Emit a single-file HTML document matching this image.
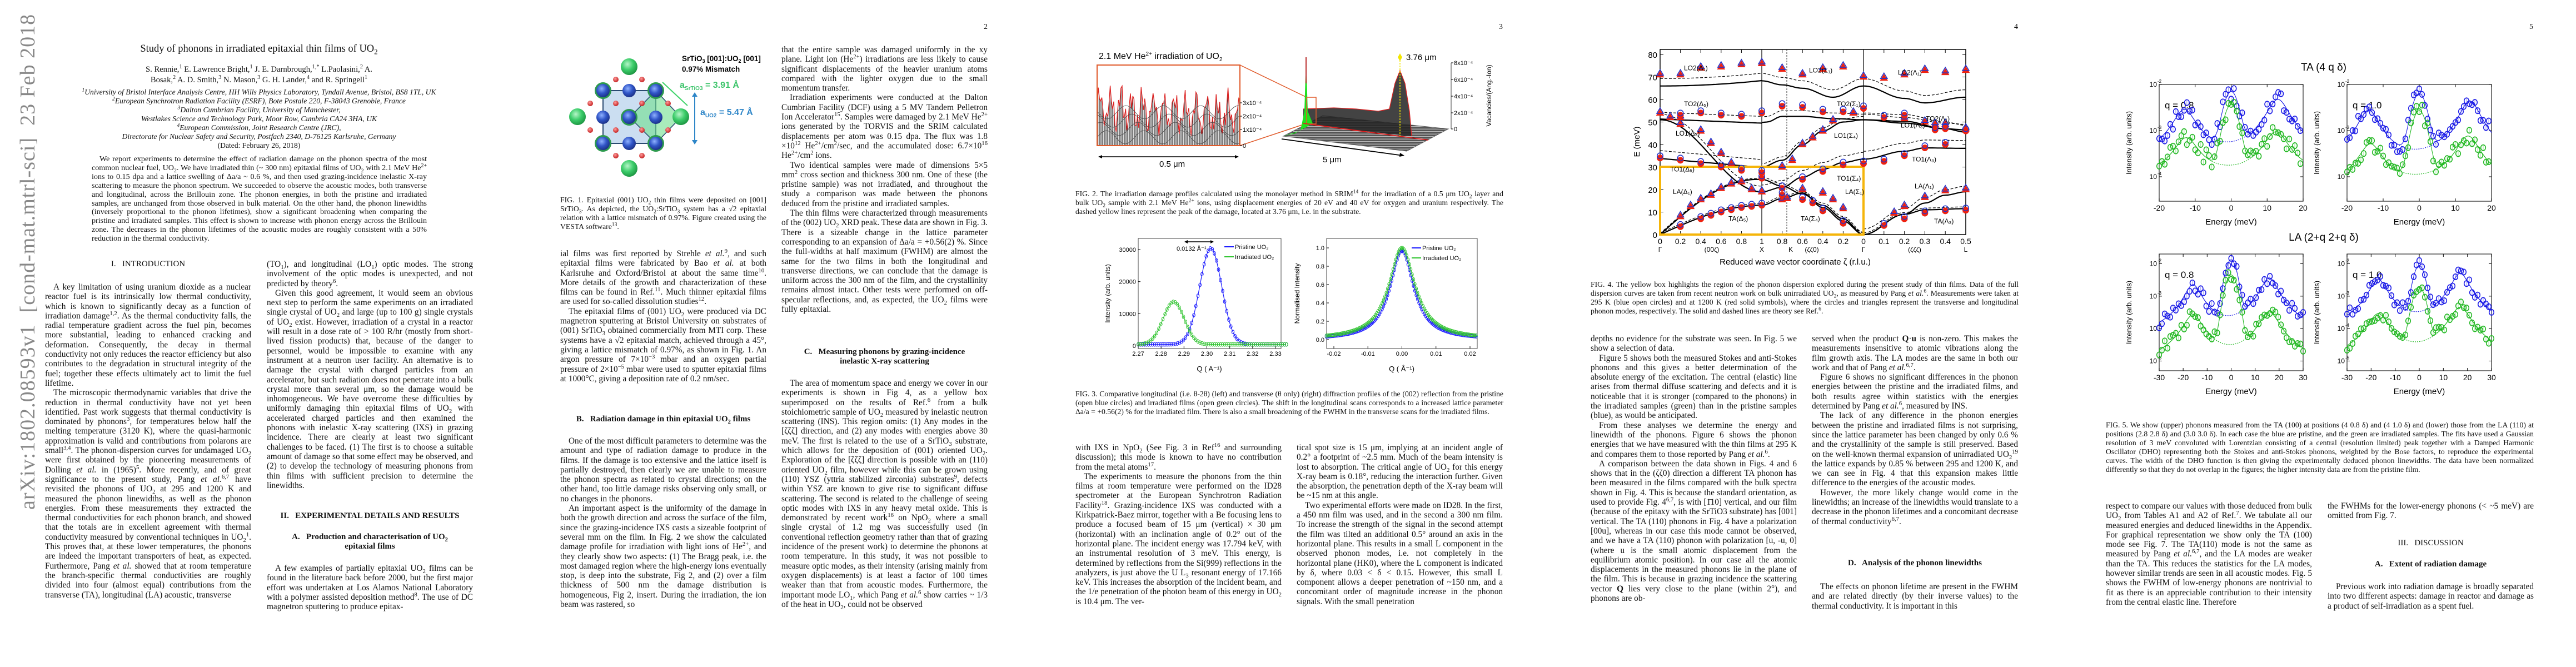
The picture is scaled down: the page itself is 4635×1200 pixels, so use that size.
<!DOCTYPE html>
<html><head><meta charset="utf-8">
<style>
html,body{margin:0;padding:0;background:#fff;}
body{width:4635px;height:1200px;position:relative;overflow:hidden;font-family:"Liberation Serif",serif;color:#111;}
sup,sub{line-height:0;font-size:70%;}
.c{position:absolute;width:371px;font-size:15.3px;line-height:17.3px;text-align:justify;overflow:hidden;}
.c p{margin:0;text-indent:15px;}
.h{position:absolute;width:371px;text-align:center;font-size:15px;line-height:17.3px;font-weight:bold;}
.cap{position:absolute;font-size:13.7px;line-height:16px;text-align:justify;overflow:hidden;}
.pn{position:absolute;top:41px;font-size:14px;}
svg text{font-family:"Liberation Sans",sans-serif;}
</style></head><body>

<div style="position:absolute;left:-260px;top:585px;width:620px;transform:rotate(-90deg);font-size:38px;color:#888;font-family:'Liberation Serif',serif;white-space:nowrap;letter-spacing:1px;">arXiv:1802.08593v1&nbsp; [cond-mat.mtrl-sci]&nbsp; 23 Feb 2018</div>

<div class="pn" style="left:1770px">2</div>
<div class="pn" style="left:2697px">3</div>
<div class="pn" style="left:3624px">4</div>
<div class="pn" style="left:4551px">5</div>

<!-- PAGE 1 -->
<div style="position:absolute;left:81px;width:770px;top:78px;text-align:center;font-size:18.5px;">Study of phonons in irradiated epitaxial thin films of UO<sub>2</sub></div>
<div style="position:absolute;left:81px;width:770px;top:116px;text-align:center;font-size:14.6px;line-height:19px;">S. Rennie,<sup>1</sup> E. Lawrence Bright,<sup>1</sup> J. E. Darnbrough,<sup>1,*</sup> L.Paolasini,<sup>2</sup> A.<br>Bosak,<sup>2</sup> A. D. Smith,<sup>3</sup> N. Mason,<sup>3</sup> G. H. Lander,<sup>4</sup> and R. Springell<sup>1</sup></div>
<div style="position:absolute;left:81px;width:770px;top:158px;text-align:center;font-size:13.6px;line-height:16px;font-style:italic;"><sup>1</sup>University of Bristol Interface Analysis Centre, HH Wills Physics Laboratory, Tyndall Avenue, Bristol, BS8 1TL, UK<br><sup>2</sup>European Synchrotron Radiation Facility (ESRF), Bote Postale 220, F-38043 Grenoble, France<br><sup>3</sup>Dalton Cumbrian Facility, University of Manchester,<br>Westlakes Science and Technology Park, Moor Row, Cumbria CA24 3HA, UK<br><sup>4</sup>European Commission, Joint Research Centre (JRC),<br>Directorate for Nuclear Safety and Security, Postfach 2340, D-76125 Karlsruhe, Germany<br><span style="font-style:normal">(Dated: February 26, 2018)</span></div>
<div style="position:absolute;left:165px;width:603px;top:279px;font-size:14.1px;line-height:15.9px;text-align:justify;text-indent:14px;">We report experiments to determine the effect of radiation damage on the phonon spectra of the most common nuclear fuel, UO<sub>2</sub>. We have irradiated thin (~ 300 nm) epitaxial films of UO<sub>2</sub> with 2.1 MeV He<sup>2+</sup> ions to 0.15 dpa and a lattice swelling of Δa/a ~ 0.6 %, and then used grazing-incidence inelastic X-ray scattering to measure the phonon spectrum. We succeeded to observe the acoustic modes, both transverse and longitudinal, across the Brillouin zone. The phonon energies, in both the pristine and irradiated samples, are unchanged from those observed in bulk material. On the other hand, the phonon linewidths (inversely proportional to the phonon lifetimes), show a significant broadening when comparing the pristine and irradiated samples. This effect is shown to increase with phonon energy across the Brillouin zone. The decreases in the phonon lifetimes of the acoustic modes are roughly consistent with a 50% reduction in the thermal conductivity.</div>

<div class="h" style="left:81px;top:467px;font-weight:normal">I.&nbsp;&nbsp; INTRODUCTION</div>
<div class="c" style="left:81px;top:508px;height:592px;"><p>A key limitation of using uranium dioxide as a nuclear reactor fuel is its intrinsically low thermal conductivity, which is known to significantly decay as a function of irradiation damage<sup>1,2</sup>. As the thermal conductivity falls, the radial temperature gradient across the fuel pin, becomes more substantial, leading to enhanced cracking and deformation. Consequently, the decay in thermal conductivity not only reduces the reactor efficiency but also contributes to the degradation in structural integrity of the fuel; together these effects ultimately act to limit the fuel lifetime.</p><p>The microscopic thermodynamic variables that drive the reduction in thermal conductivity have not yet been identified. Past work suggests that thermal conductivity is dominated by phonons<sup>3</sup>, for temperatures below half the melting temperature (3120 K), where the quasi-harmonic approximation is valid and contributions from polarons are small<sup>3,4</sup>. The phonon-dispersion curves for undamaged UO<sub>2</sub> were first obtained by the pioneering measurements of Dolling <i>et al.</i> in (1965)<sup>5</sup>. More recently, and of great significance to the present study, Pang <i>et al.</i><sup>6,7</sup> have revisited the phonons of UO<sub>2</sub> at 295 and 1200 K and measured the phonon linewidths, as well as the phonon energies. From these measurements they extracted the thermal conductivities for each phonon branch, and showed that the totals are in excellent agreement with thermal conductivity measured by conventional techniques in UO<sub>2</sub><sup>1</sup>. This proves that, at these lower temperatures, the phonons are indeed the important transporters of heat, as expected. Furthermore, Pang <i>et al.</i> showed that at room temperature the branch-specific thermal conductivities are roughly divided into four (almost equal) contributions from the transverse (TA), longitudinal (LA) acoustic, transverse</p></div>
<div class="c" style="left:480px;top:467px;height:416px;"><p style="text-indent:0">(TO<sub>1</sub>), and longitudinal (LO<sub>1</sub>) optic modes. The strong involvement of the optic modes is unexpected, and not predicted by theory<sup>6</sup>.</p><p>Given this good agreement, it would seem an obvious next step to perform the same experiments on an irradiated single crystal of UO<sub>2</sub> and large (up to 100 g) single crystals of UO<sub>2</sub> exist. However, irradiation of a crystal in a reactor will result in a dose rate of &gt; 100 R/hr (mostly from short-lived fission products) that, because of the danger to personnel, would be impossible to examine with any instrument at a neutron user facility. An alternative is to damage the crystal with charged particles from an accelerator, but such radiation does not penetrate into a bulk crystal more than several μm, so the damage would be inhomogeneous. We have overcome these difficulties by uniformly damaging thin epitaxial films of UO<sub>2</sub> with accelerated charged particles and then examined the phonons with inelastic X-ray scattering (IXS) in grazing incidence. There are clearly at least two significant challenges to be faced. (1) The first is to choose a suitable amount of damage so that some effect may be observed, and (2) to develop the technology of measuring phonons from thin films with sufficient precision to determine the linewidths.</p></div>
<div class="h" style="left:480px;top:920px">II.&nbsp;&nbsp; EXPERIMENTAL DETAILS AND RESULTS</div>
<div class="h" style="left:480px;top:958px">A.&nbsp;&nbsp; Production and characterisation of UO<sub>2</sub><br>epitaxial films</div>
<div class="c" style="left:480px;top:1014px;height:87px;"><p>A few examples of partially epitaxial UO<sub>2</sub> films can be found in the literature back before 2000, but the first major effort was undertaken at Los Alamos National Laboratory with a polymer assisted deposition method<sup>8</sup>. The use of DC magnetron sputtering to produce epitax-</p></div>

<!-- PAGE 2 -->
<div class="cap" style="left:1008px;top:352px;width:371px;height:66px;">FIG. 1. Epitaxial (001) UO<sub>2</sub> thin films were deposited on [001] SrTiO<sub>3</sub>. As depicted, the UO<sub>2</sub>:SrTiO<sub>3</sub> system has a √2 epitaxial relation with a lattice mismatch of 0.97%. Figure created using the VESTA software<sup>13</sup>.</div>
<div class="c" style="left:1008px;top:448px;height:262px;"><p style="text-indent:0">ial films was first reported by Strehle <i>et al.</i><sup>9</sup>, and such epitaxial films were fabricated by Bao <i>et al.</i> at both Karlsruhe and Oxford/Bristol at about the same time<sup>10</sup>. More details of the growth and characterization of these films can be found in Ref.<sup>11</sup>. Much thinner epitaxial films are used for so-called dissolution studies<sup>12</sup>.</p><p>The epitaxial films of (001) UO<sub>2</sub> were produced via DC magnetron sputtering at Bristol University on substrates of (001) SrTiO<sub>3</sub> obtained commercially from MTI corp. These systems have a √2 epitaxial match, achieved through a 45°, giving a lattice mismatch of 0.97%, as shown in Fig. 1. An argon pressure of 7×10<sup>−3</sup> mbar and an oxygen partial pressure of 2×10<sup>−5</sup> mbar were used to sputter epitaxial films at 1000°C, giving a deposition rate of 0.2 nm/sec.</p></div>
<div class="h" style="left:1008px;top:746px">B.&nbsp;&nbsp; Radiation damage in thin epitaxial UO<sub>2</sub> films</div>
<div class="c" style="left:1008px;top:785px;height:315px;"><p>One of the most difficult parameters to determine was the amount and type of radiation damage to produce in the films. If the damage is too extensive and the lattice itself is partially destroyed, then clearly we are unable to measure the phonon spectra as related to crystal directions; on the other hand, too little damage risks observing only small, or no changes in the phonons.</p><p>An important aspect is the uniformity of the damage in both the growth direction and across the surface of the film, since the grazing-incidence IXS casts a sizeable footprint of several mm on the film. In Fig. 2 we show the calculated damage profile for irradiation with light ions of He<sup>2+</sup>, and they clearly show two aspects: (1) The Bragg peak, i.e. the most damaged region where the high-energy ions eventually stop, is deep into the substrate, Fig 2, and (2) over a film thickness of 500 nm the damage distribution is homogeneous, Fig 2, insert. During the irradiation, the ion beam was rastered, so</p></div>
<div class="c" style="left:1406px;top:81px;height:506px;"><p style="text-indent:0">that the entire sample was damaged uniformly in the xy plane. Light ion (He<sup>2+</sup>) irradiations are less likely to cause significant displacements of the heavier uranium atoms compared with the lighter oxygen due to the small momentum transfer.</p><p>Irradiation experiments were conducted at the Dalton Cumbrian Facility (DCF) using a 5 MV Tandem Pelletron Ion Accelerator<sup>15</sup>. Samples were damaged by 2.1 MeV He<sup>2+</sup> ions generated by the TORVIS and the SRIM calculated displacements per atom was 0.15 dpa. The flux was 1.8 ×10<sup>12</sup> He<sup>2+</sup>/cm<sup>2</sup>/sec, and the accumulated dose: 6.7×10<sup>16</sup> He<sup>2+</sup>/cm<sup>2</sup> ions.</p><p>Two identical samples were made of dimensions 5×5 mm<sup>2</sup> cross section and thickness 300 nm. One of these (the pristine sample) was not irradiated, and throughout the study a comparison was made between the phonons deduced from the pristine and irradiated samples.</p><p>The thin films were characterized through measurements of the (002) UO<sub>2</sub> XRD peak. These data are shown in Fig. 3. There is a sizeable change in the lattice parameter corresponding to an expansion of Δa/a = +0.56(2) %. Since the full-widths at half maximum (FWHM) are almost the same for the two films in both the longitudinal and transverse directions, we can conclude that the damage is uniform across the 300 nm of the film, and the crystallinity remains almost intact. Other tests were performed on off-specular reflections, and, as expected, the UO<sub>2</sub> films were fully epitaxial.</p></div>
<div class="h" style="left:1406px;top:625px">C.&nbsp;&nbsp; Measuring phonons by grazing-incidence<br>inelastic X-ray scattering</div>
<div class="c" style="left:1406px;top:681px;height:419px;"><p>The area of momentum space and energy we cover in our experiments is shown in Fig 4, as a yellow box superimposed on the results of Ref.<sup>6</sup> from a bulk stoichiometric sample of UO<sub>2</sub> measured by inelastic neutron scattering (INS). This region omits: (1) Any modes in the [ζζζ] direction, and (2) any modes with energies above 30 meV. The first is related to the use of a SrTiO<sub>3</sub> substrate, which allows for the deposition of (001) oriented UO<sub>2</sub>. Exploration of the [ζζζ] direction is possible with an (110) oriented UO<sub>2</sub> film, however while this can be grown using (110) YSZ (yttria stabilized zirconia) substrates<sup>9</sup>, defects within YSZ are known to give rise to significant diffuse scattering. The second is related to the challenge of seeing optic modes with IXS in any heavy metal oxide. This is demonstrated by recent work<sup>16</sup> on NpO<sub>2</sub> where a small single crystal of 1.2 mg was successfully used (in conventional reflection geometry rather than that of grazing incidence of the present work) to determine the phonons at room temperature. In this study, it was not possible to measure optic modes, as their intensity (arising mainly from oxygen displacements) is at least a factor of 100 times weaker than that from acoustic modes. Furthermore, the important mode LO<sub>1</sub>, which Pang <i>et al.</i><sup>6</sup> show carries ~ 1/3 of the heat in UO<sub>2</sub>, could not be observed</p></div>

<!-- PAGE 3 -->
<div class="cap" style="left:1935px;top:341px;width:770px;height:50px;">FIG. 2. The irradiation damage profiles calculated using the monolayer method in SRIM<sup>14</sup> for the irradiation of a 0.5 μm UO<sub>2</sub> layer and bulk UO<sub>2</sub> sample with 2.1 MeV He<sup>2+</sup> ions, using displacement energies of 20 eV and 40 eV for oxygen and uranium respectively. The dashed yellow lines represent the peak of the damage, located at 3.76 μm, i.e. in the substrate.</div>
<div class="cap" style="left:1935px;top:701px;width:770px;height:66px;">FIG. 3. Comparative longitudinal (i.e. θ-2θ) (left) and transverse (θ only) (right) diffraction profiles of the (002) reflection from the pristine (open blue circles) and irradiated films (open green circles). The shift in the longitudinal scans corresponds to a increased lattice parameter Δa/a = +0.56(2) % for the irradiated film. There is also a small broadening of the FWHM in the transverse scans for the irradiated films.</div>
<div class="c" style="left:1935px;top:797px;height:303px;"><p style="text-indent:0">with IXS in NpO<sub>2</sub> (See Fig. 3 in Ref<sup>16</sup> and surrounding discussion); this mode is known to have no contribution from the metal atoms<sup>17</sup>.</p><p>The experiments to measure the phonons from the thin films at room temperature were performed on the ID28 spectrometer at the European Synchrotron Radiation Facility<sup>18</sup>. Grazing-incidence IXS was conducted with a Kirkpatrick-Baez mirror, together with a Be focusing lens to produce a focused beam of 15 μm (vertical) × 30 μm (horizontal) with an inclination angle of 0.2° out of the horizontal plane. The incident energy was 17.794 keV, with an instrumental resolution of 3 meV. This energy, is determined by reflections from the Si(999) reflections in the analyzers, is just above the U L<sub>3</sub> resonant energy of 17.166 keV. This increases the absorption of the incident beam, and the 1/e penetration of the photon beam of this energy in UO<sub>2</sub> is 10.4 μm. The ver-</p></div>
<div class="c" style="left:2333px;top:797px;height:303px;"><p style="text-indent:0">tical spot size is 15 μm, implying at an incident angle of 0.2° a footprint of ~2.5 mm. Much of the beam intensity is lost to absorption. The critical angle of UO<sub>2</sub> for this energy X-ray beam is 0.18°, reducing the interaction further. Given the absorption, the penetration depth of the X-ray beam will be ~15 nm at this angle.</p><p>Two experimental efforts were made on ID28. In the first, a 450 nm film was used, and in the second a 300 nm film. To increase the strength of the signal in the second attempt the film was tilted an additional 0.5° around an axis in the horizontal plane. This results in a small L component in the observed phonon modes, i.e. not completely in the horizontal plane (HK0), where the L component is indicated by δ, where 0.03 &lt; δ &lt; 0.15. However, this small L component allows a deeper penetration of ~150 nm, and a concomitant order of magnitude increase in the phonon signals. With the small penetration</p></div>

<!-- PAGE 4 -->
<div class="cap" style="left:2862px;top:504px;width:770px;height:66px;">FIG. 4. The yellow box highlights the region of the phonon dispersion explored during the present study of thin films. Data of the full dispersion curves are taken from recent neutron work on bulk unirradiated UO<sub>2</sub>, as measured by Pang <i>et al.</i><sup>6</sup>. Measurements were taken at 295 K (blue open circles) and at 1200 K (red solid symbols), where the circles and triangles represent the transverse and longitudinal phonon modes, respectively. The solid and dashed lines are theory see Ref.<sup>6</sup>.</div>
<div class="c" style="left:2862px;top:601px;height:499px;"><p style="text-indent:0">depths no evidence for the substrate was seen. In Fig. 5 we show a selection of data.</p><p>Figure 5 shows both the measured Stokes and anti-Stokes phonons and this gives a better determination of the absolute energy of the excitation. The central (elastic) line arises from thermal diffuse scattering and defects and it is noticeable that it is stronger (compared to the phonons) in the irradiated samples (green) than in the pristine samples (blue), as would be anticipated.</p><p>From these analyses we determine the energy and linewidth of the phonons. Figure 6 shows the phonon energies that we have measured with the thin films at 295 K and compares them to those reported by Pang <i>et al.</i><sup>6</sup>.</p><p>A comparison between the data shown in Figs. 4 and 6 shows that in the (ζζ0) direction a different TA phonon has been measured in the films compared with the bulk spectra shown in Fig. 4. This is because the standard orientation, as used to provide Fig. 4<sup>6,7</sup>, is with [1̄10] vertical, and our film (because of the epitaxy with the SrTiO3 substrate) has [001] vertical. The TA (110) phonons in Fig. 4 have a polarization [00u], whereas in our case this mode cannot be observed, and we have a TA (110) phonon with polarization [u, -u, 0] (where u is the small atomic displacement from the equilibrium atomic position). In our case all the atomic displacements in the measured phonons lie in the plane of the film. This is because in grazing incidence the scattering vector <b>Q</b> lies very close to the plane (within 2°), and phonons are ob-</p></div>
<div class="c" style="left:3260px;top:601px;height:366px;"><p style="text-indent:0">served when the product <b>Q</b>·<b>u</b> is non-zero. This makes the measurements insensitive to atomic vibrations along the film growth axis. The LA modes are the same in both our work and that of Pang <i>et al.</i><sup>6,7</sup>.</p><p>Figure 6 shows no significant differences in the phonon energies between the pristine and the irradiated films, and both results agree within statistics with the energies determined by Pang <i>et al.</i><sup>6</sup>, measured by INS.</p><p>The lack of any difference in the phonon energies between the pristine and irradiated films is not surprising, since the lattice parameter has been changed by only 0.6 % and the crystallinity of the sample is still preserved. Based on the well-known thermal expansion of unirradiated UO<sub>2</sub><sup>19</sup> the lattice expands by 0.85 % between 295 and 1200 K, and we can see in Fig. 4 that this expansion makes little difference to the energies of the acoustic modes.</p><p>However, the more likely change would come in the linewidths; an increase of the linewidths would translate to a decrease in the phonon lifetimes and a concomitant decrease of thermal conductivity<sup>6,7</sup>.</p></div>
<div class="h" style="left:3260px;top:1005px">D.&nbsp;&nbsp; Analysis of the phonon linewidths</div>
<div class="c" style="left:3260px;top:1047px;height:53px;"><p>The effects on phonon lifetime are present in the FWHM and are related directly (by their inverse values) to the thermal conductivity. It is important in this</p></div>

<!-- PAGE 5 -->
<div class="cap" style="left:3789px;top:757px;width:770px;height:114px;">FIG. 5. We show (upper) phonons measured from the TA (100) at positions (4 0.8 δ) and (4 1.0 δ) and (lower) those from the LA (110) at positions (2.8 2.8 δ) and (3.0 3.0 δ). In each case the blue are pristine, and the green are irradiated samples. The fits have used a Gaussian resolution of 3 meV convoluted with Lorentzian consisting of a central (resolution limited) peak together with a Damped Harmonic Oscillator (DHO) representing both the Stokes and anti-Stokes phonons, weighted by the Bose factors, to reproduce the experimental curves. The width of the DHO function is then giving the experimentally deduced phonon linewidths. The data have been normalized differently so that they do not overlap in the figures; the higher intensity data are from the pristine film.</div>
<div class="c" style="left:3789px;top:902px;height:198px;"><p style="text-indent:0">respect to compare our values with those deduced from bulk UO<sub>2</sub> from Tables A1 and A2 of Ref.<sup>7</sup>. We tabulate all our measured energies and deduced linewidths in the Appendix. For graphical representation we show only the TA (100) mode see Fig. 7. The TA(110) mode is not the same as measured by Pang <i>et al.</i><sup>6,7</sup>, and the LA modes are weaker than the TA. This reduces the statistics for the LA modes, however similar trends are seen in all acoustic modes. Fig. 5 shows the FWHM of low-energy phonons are nontrivial to fit as there is an appreciable contribution to their intensity from the central elastic line. Therefore</p></div>
<div class="c" style="left:4188px;top:902px;height:36px;"><p style="text-indent:0">the FWHMs for the lower-energy phonons (&lt; ~5 meV) are omitted from Fig. 7.</p></div>
<div class="h" style="left:4188px;top:969px;font-weight:normal">III.&nbsp;&nbsp; DISCUSSION</div>
<div class="h" style="left:4188px;top:1007px">A.&nbsp;&nbsp; Extent of radiation damage</div>
<div class="c" style="left:4188px;top:1047px;height:53px;"><p>Previous work into radiation damage is broadly separated into two different aspects: damage in reactor and damage as a product of self-irradiation as a spent fuel.</p></div>

<svg id="g" width="4635" height="1200" style="position:absolute;left:0;top:0" xmlns="http://www.w3.org/2000/svg">
<defs>
<pattern id="vl" width="3" height="10" patternUnits="userSpaceOnUse"><rect width="3" height="10" fill="#ddd"/><line x1="1" y1="0" x2="1" y2="10" stroke="#222" stroke-width="1"/></pattern>
<pattern id="hl" width="6" height="3" patternUnits="userSpaceOnUse"><rect width="6" height="3" fill="#bbb"/><line x1="0" y1="1" x2="6" y2="1" stroke="#111" stroke-width="1.2"/></pattern>
<radialGradient id="gg" cx="0.4" cy="0.35" r="0.7"><stop offset="0" stop-color="#b6f5c8"/><stop offset="0.5" stop-color="#3ccd6a"/><stop offset="1" stop-color="#1a8f3e"/></radialGradient>
<radialGradient id="bg" cx="0.4" cy="0.35" r="0.7"><stop offset="0" stop-color="#8fb1ff"/><stop offset="0.5" stop-color="#3156c8"/><stop offset="1" stop-color="#1a2d80"/></radialGradient>
<radialGradient id="rg" cx="0.4" cy="0.35" r="0.7"><stop offset="0" stop-color="#ff9a9a"/><stop offset="1" stop-color="#c01818"/></radialGradient>
</defs>
<g id="f1"></g>
<text x="1227" y="110" font-size="13.5" font-weight="bold">SrTiO<tspan font-size="9" dy="3">3</tspan><tspan dy="-3"> [001]:UO</tspan><tspan font-size="9" dy="3">2</tspan><tspan dy="-3"> [001]</tspan></text>
<text x="1227" y="129" font-size="13.5" font-weight="bold">0.97% Mismatch</text>
<line x1="1192" y1="148" x2="1237" y2="190" stroke="#3fd36a" stroke-width="2"/>
<text x="1223" y="158" font-size="16" font-weight="bold" fill="#3cc46a">a<tspan font-size="10" dy="4">SrTiO3</tspan><tspan dy="-4"> = 3.91 Å</tspan></text>
<line x1="1250" y1="168" x2="1250" y2="258" stroke="#2e86c8" stroke-width="2"/>
<path d="M1245 174 L1250 166 L1255 174 Z M1245 252 L1250 260 L1255 252 Z" fill="#2e86c8"/>
<text x="1260" y="207" font-size="16" font-weight="bold" fill="#2e86c8">a<tspan font-size="10" dy="4">UO2</tspan><tspan dy="-4"> = 5.47 Å</tspan></text>

<text x="1977" y="106" font-size="16">2.1 MeV He<tspan font-size="10" dy="-6">2+</tspan><tspan dy="6"> irradiation of UO</tspan><tspan font-size="10" dy="4">2</tspan></text>
<g id="f2"></g>
<g id="f3"></g>
<g id="f4"></g>
<g id="f5"></g>
</svg>

<script>
var NS="http://www.w3.org/2000/svg";
function el(p,t,a,txt){var e=document.createElementNS(NS,t);for(var k in a)e.setAttribute(k,a[k]);if(txt!==undefined)e.textContent=txt;p.appendChild(e);return e;}
function pts(a){return a.map(function(p){return p[0].toFixed(1)+","+p[1].toFixed(1)}).join(" ");}
function rnd(i){var x=Math.sin(i*12.9898+78.233)*43758.5453;return x-Math.floor(x);}

(function(){var g=document.getElementById("f1");
el(g,"rect",{x:1085,y:163,width:95,height:95,fill:"#b9d3ec","fill-opacity":0.75,stroke:"#2a4a70","stroke-width":2});
el(g,"polygon",{points:"1133,211 1180,163 1225,211 1180,258",fill:"#6fe08e","fill-opacity":0.6,stroke:"#2a4a70","stroke-width":1.5});
[[1108,143],[1155,143],[1108,280],[1155,280]].forEach(function(p){el(g,"circle",{cx:p[0],cy:p[1],r:5,fill:"url(#rg)"})});
[1062,1108,1155,1202].forEach(function(x){[186,234].forEach(function(y){el(g,"circle",{cx:x,cy:y,r:5,fill:"url(#rg)"})})});
[[1132,120],[1039,210],[1225,210],[1132,303]].forEach(function(p){el(g,"circle",{cx:p[0],cy:p[1],r:15,fill:"url(#gg)"})});
[[1085,163],[1180,163],[1085,258],[1180,258],[1132,211]].forEach(function(p){el(g,"circle",{cx:p[0],cy:p[1],r:15,fill:"#2d9a4e"})});
[1085,1132,1180].forEach(function(x){[163,211,258].forEach(function(y){el(g,"circle",{cx:x,cy:y,r:12,fill:"url(#bg)"})})});
})();

(function(){var g=document.getElementById("f2");
el(g,"rect",{x:1974,y:117,width:257,height:145,fill:"#fff"});
var top=[],i;for(i=0;i<=120;i++){var x=1974+i*257/120;var v=0.55+0.25*Math.sin(i*0.7)+0.15*Math.sin(i*1.9)+0.2*rnd(i)-0.15*i/120;top.push([x,262-v*145*0.72]);}
el(g,"polygon",{points:pts([[1974,262]].concat(top).concat([[2231,262]])),fill:"url(#vl)"});
el(g,"polyline",{points:pts(top),fill:"none",stroke:"#d22","stroke-width":1.3});
for(var k=0;k<4;k++){var q=[];for(i=0;i<=60;i++){q.push([1974+i*257/60,262-(15+k*15)-12*Math.sin(i*0.4+k)]);}el(g,"polyline",{points:pts(q),fill:"none",stroke:"#444","stroke-width":0.8});}
el(g,"rect",{x:1974,y:117,width:257,height:145,fill:"none",stroke:"#e05a2a","stroke-width":2});
el(g,"line",{x1:2231,y1:117,x2:2351,y2:175,stroke:"#e05a2a","stroke-width":1.5});
el(g,"line",{x1:2231,y1:262,x2:2351,y2:222,stroke:"#e05a2a","stroke-width":1.5});
[["3x10⁻⁴",185],["2x10⁻⁴",209],["1x10⁻⁴",233],["0",262]].forEach(function(t){el(g,"line",{x1:2231,y1:t[1],x2:2235,y2:t[1],stroke:"#000"});el(g,"text",{x:2236,y:t[1]+4,"font-size":11},t[0]);});
el(g,"line",{x1:1977,y1:282,x2:2228,y2:282,stroke:"#000","stroke-width":1.5});
el(g,"path",{d:"M1976 282 l7 -3 v6 z M2229 282 l-7 -3 v6 z",fill:"#000"});
el(g,"text",{x:2086,y:300,"font-size":15},"0.5 μm");
el(g,"polygon",{points:"2309,245 2531,272 2606,232 2380,208",fill:"url(#hl)",stroke:"#666"});
el(g,"polygon",{points:"2345,205 2345,196 2400,194 2440,196 2480,200 2500,196 2510,150 2519,127 2528,150 2536,200 2540,245 2420,232 2345,222",fill:"#222","fill-opacity":0.85});
el(g,"polyline",{points:"2345,196 2400,194 2440,196 2480,200 2500,196 2510,150 2519,127 2528,150 2536,200 2540,245",fill:"none",stroke:"#d22","stroke-width":1.3});
el(g,"polygon",{points:"2309,245 2340,235 2347,200 2350,103 2353,200 2362,222 2330,240",fill:"#1fe01f"});
el(g,"line",{x1:2350,y1:103,x2:2350,y2:150,stroke:"#b33","stroke-width":2});
el(g,"rect",{x:2351,y:175,width:17,height:48,fill:"none",stroke:"#e05a2a","stroke-width":1.5});
el(g,"line",{x1:2345,y1:222,x2:2570,y2:252,stroke:"#e02020","stroke-width":1.8});
el(g,"line",{x1:2519,y1:103,x2:2519,y2:245,stroke:"#f2e600","stroke-width":1.5,"stroke-dasharray":"3,2"});
el(g,"path",{d:"M2519 96 l4 7 l-4 7 l-4 -7z",fill:"#f2e600"});
el(g,"text",{x:2530,y:108,"font-size":15},"3.76 μm");
el(g,"line",{x1:2611,y1:113,x2:2611,y2:232,stroke:"#333"});
[["8x10⁻⁴",113],["6x10⁻⁴",143],["4x10⁻⁴",173],["2x10⁻⁴",203],["0",232]].forEach(function(t){el(g,"line",{x1:2611,y1:t[1],x2:2615,y2:t[1],stroke:"#000"});el(g,"text",{x:2616,y:t[1]+4,"font-size":11},t[0]);});
el(g,"text",{x:2683,y:172,"font-size":12,transform:"rotate(-90 2683 172)","text-anchor":"middle"},"Vacancies/(Ang.-Ion)");
el(g,"line",{x1:2306,y1:250,x2:2525,y2:280,stroke:"#000","stroke-width":1.8});
el(g,"path",{d:"M2527 280 l-8 -5 l-1 7 z",fill:"#000"});
el(g,"text",{x:2380,y:292,"font-size":15},"5 μm");
})();

(function(){var g=document.getElementById("f3");
var L={x0:2048,x1:2305,y0:429,y1:627};
el(g,"rect",{x:L.x0,y:L.y0,width:L.x1-L.x0,height:L.y1-L.y0,fill:"none",stroke:"#444"});
function lx(q){return 2048+(q-2.27)/0.06*247;} function ly(v){return 622-v*(173/30000);}
for(var q=2.27;q<2.3351;q+=0.01){el(g,"text",{x:lx(q),y:640,"font-size":11,"text-anchor":"middle"},q.toFixed(2));el(g,"line",{x1:lx(q),y1:627,x2:lx(q),y2:623,stroke:"#000"});}
[0,10000,20000,30000].forEach(function(v){el(g,"text",{x:L.x0-4,y:ly(v)+4,"font-size":11,"text-anchor":"end"},String(v));el(g,"line",{x1:L.x0,y1:ly(v),x2:L.x0+4,y2:ly(v),stroke:"#000"});});
el(g,"text",{x:1997,y:528,"font-size":12,transform:"rotate(-90 1997 528)","text-anchor":"middle"},"Intensity (arb. units)");
el(g,"text",{x:2176,y:668,"font-size":13,"text-anchor":"middle"},"Q ( A⁻¹)");
function peak(q,c,h,w){return h*Math.exp(-Math.pow((q-c)/w,2)/2);}
var cols=[["#1a1aff",2.3017,30000,0.0048],["#2fc42f",2.2855,13300,0.0046]];
cols.forEach(function(c){var p=[];for(var q=2.27;q<=2.335;q+=0.0005)p.push([lx(q),ly(peak(q,c[1],c[2],c[3])+400)]);el(g,"polyline",{points:pts(p),fill:"none",stroke:c[0],"stroke-width":1.2});
for(var q=2.27;q<=2.335;q+=0.0009){el(g,"ellipse",{cx:lx(q),cy:ly(peak(q,c[1],c[2],c[3])+400),rx:2.3,ry:3.4,fill:"none",stroke:c[0],"stroke-width":1});}});
el(g,"line",{x1:2133,y1:435,x2:2182,y2:435,stroke:"#000","stroke-width":1.5});
el(g,"path",{d:"M2131 435 l6 -3 v6z M2184 435 l-6 -3 v6z"});
el(g,"text",{x:2117,y:451,"font-size":11},"0.0132 Å⁻¹");
el(g,"line",{x1:2203,y1:444,x2:2220,y2:444,stroke:"#1a1aff","stroke-width":2});el(g,"text",{x:2222,y:448,"font-size":11},"Pristine UO₂");
el(g,"line",{x1:2203,y1:462,x2:2220,y2:462,stroke:"#2fc42f","stroke-width":2});el(g,"text",{x:2222,y:466,"font-size":11},"Irradiated UO₂");
var R={x0:2387,x1:2658,y0:429,y1:627};
el(g,"rect",{x:R.x0,y:R.y0,width:R.x1-R.x0,height:R.y1-R.y0,fill:"none",stroke:"#444"});
function rx(q){return 2522.5+q/0.02*122.5;} function ry(v){return 611-v*165;}
["-0.02","-0.01","0.00","0.01","0.02"].forEach(function(t){var x=rx(parseFloat(t));el(g,"text",{x:x,y:640,"font-size":11,"text-anchor":"middle"},t);el(g,"line",{x1:x,y1:627,x2:x,y2:623,stroke:"#000"});});
[0,0.2,0.4,0.6,0.8,1.0].forEach(function(v){el(g,"text",{x:R.x0-4,y:ry(v)+4,"font-size":11,"text-anchor":"end"},v.toFixed(1));el(g,"line",{x1:R.x0,y1:ry(v),x2:R.x0+4,y2:ry(v),stroke:"#000"});});
el(g,"text",{x:2338,y:528,"font-size":12,transform:"rotate(-90 2338 528)","text-anchor":"middle"},"Normalised Intensity");
el(g,"text",{x:2522,y:668,"font-size":13,"text-anchor":"middle"},"Q ( Å⁻¹)");
function lor(q,w,h){return h/(1+Math.pow(q/w,2));}
[["#1a1aff",0.0042,0.97],["#2fc42f",0.0047,1.0]].forEach(function(c){var p=[];for(var q=-0.0222;q<=0.0222;q+=0.0002)p.push([rx(q),ry(lor(q,c[1],c[2]))]);el(g,"polyline",{points:pts(p),fill:"none",stroke:c[0],"stroke-width":1.2});
for(var q=-0.0222;q<=0.0222;q+=0.0004){el(g,"ellipse",{cx:rx(q),cy:ry(lor(q,c[1],c[2])),rx:2.3,ry:3.2,fill:"none",stroke:c[0],"stroke-width":1});}});
el(g,"line",{x1:2540,y1:446,x2:2557,y2:446,stroke:"#1a1aff","stroke-width":2});el(g,"text",{x:2559,y:450,"font-size":11},"Pristine UO₂");
el(g,"line",{x1:2540,y1:464,x2:2557,y2:464,stroke:"#2fc42f","stroke-width":2});el(g,"text",{x:2559,y:468,"font-size":11},"Irradiated UO₂");
})();

(function(){var g=document.getElementById("f4");
var X0=2987,XX=3170,XG=3353,XL=3537,Y0=422,T=89;
function Y(e){return 422-e*4.05;}
function s1(u){return X0+u*(XX-X0);} function s2(v){return XX+(1-v)*(XG-XX);} function s3(w){return XG+w*2*(XL-XG);}
el(g,"rect",{x:X0,y:T,width:XL-X0,height:Y0-T,fill:"none",stroke:"#000","stroke-width":1.5});
el(g,"line",{x1:XX,y1:T,x2:XX,y2:Y0,stroke:"#000","stroke-width":1.2});
el(g,"line",{x1:XG,y1:T,x2:XG,y2:Y0,stroke:"#000","stroke-width":1.2});
el(g,"line",{x1:3215,y1:T,x2:3215,y2:Y0,stroke:"#000","stroke-width":0.8,"stroke-dasharray":"3,2"});
for(var e=0;e<=80;e+=10){el(g,"text",{x:X0-5,y:Y(e)+6,"font-size":15,"text-anchor":"end"},String(e));el(g,"line",{x1:X0,y1:Y(e),x2:X0+6,y2:Y(e),stroke:"#000"});el(g,"line",{x1:XL,y1:Y(e),x2:XL-6,y2:Y(e),stroke:"#000"});}
var tl=[];
[0,0.2,0.4,0.6,0.8,1].forEach(function(u){tl.push([s1(u),u===0||u===1?String(u):u.toFixed(1)]);});
[0.8,0.6,0.4,0.2,0].forEach(function(v){tl.push([s2(v),v===0?"0":v.toFixed(1)]);});
[0.1,0.2,0.3,0.4,0.5].forEach(function(w){tl.push([s3(w),w.toFixed(1)]);});
tl.forEach(function(t){el(g,"text",{x:t[0],y:439,"font-size":14,"text-anchor":"middle"},t[1]);el(g,"line",{x1:t[0],y1:Y0,x2:t[0],y2:Y0-6,stroke:"#000"});el(g,"line",{x1:t[0],y1:T,x2:t[0],y2:T+6,stroke:"#000"});});
[["Γ",s1(0)],["(00ζ)",3080],["X",XX],["K",3222],["(ζζ0)",3260],["Γ",XG],["(ζζζ)",3445],["L",XL]].forEach(function(t){el(g,"text",{x:t[1],y:453,"font-size":12,"text-anchor":"middle"},t[0]);});
el(g,"text",{x:3230,y:476,"font-size":15,"text-anchor":"middle"},"Reduced wave vector coordinate ζ (r.l.u.)");
el(g,"text",{x:2950,y:255,"font-size":15,transform:"rotate(-90 2950 255)","text-anchor":"middle"},"E (meV)");
function curve(f,seg,a,b,dash){var p=[];for(var i=0;i<=40;i++){var t=a+(b-a)*i/40;p.push([seg(t),Y(f(t))]);}var at={points:pts(p),fill:"none",stroke:"#000","stroke-width":dash?1.2:2.2};if(dash)at["stroke-dasharray"]="5,3";el(g,"polyline",at);}
function interp(arr){return function(t){for(var i=0;i<arr.length-1;i++){if(t>=arr[i][0]&&t<=arr[i+1][0]){var r=(t-arr[i][0])/(arr[i+1][0]-arr[i][0]);r=(1-Math.cos(Math.PI*r))/2;return arr[i][1]+(arr[i+1][1]-arr[i][1])*r;}}return arr[arr.length-1][1];};}
var seg1=[[function(u){return 13*Math.sin(Math.PI*u/2);},0.7],[function(u){return 24.5*Math.sin(Math.PI*u/2*1.05);},0.5],[function(u){return 33.8-4*u;},3.5],[function(u){return 51-32*(1-Math.cos(Math.PI*u))/2;},2.5],[function(u){return 51.3-1.8*u;},3],[function(u){return 66+2.4*u*u;},3.3]];
seg1.forEach(function(c){curve(c[0],s1,0,1,false);curve(function(u){return c[0](u)+c[1];},s1,0,1,true);});
var seg2=[interp([[0,0],[0.2,6],[0.4,12],[0.6,18.5],[0.8,16],[1,13]]),interp([[0,0],[0.2,7],[0.4,13],[0.6,18],[0.8,21.5],[1,24.5]]),interp([[0,33.5],[0.2,32],[0.4,29],[0.6,25.5],[0.8,21],[1,19]]),interp([[0,51],[0.2,50],[0.4,46],[0.6,40],[0.8,33],[1,30]]),interp([[0,51],[0.3,51.5],[0.6,52.5],[0.8,52.5],[0.95,50],[1,49.8]]),interp([[0,66],[0.3,61],[0.6,65],[0.8,66.5],[1,68.3]])];
var off2=[0.8,1,3,1.5,2.5,3.3];
seg2.forEach(function(f,i){curve(f,s2,0,1,false);curve(function(v){return f(v)+off2[i];},s2,0,1,true);});
var seg3=[interp([[0,0],[0.2,9],[0.3,11],[0.5,11.5]]),interp([[0,0],[0.2,9],[0.3,14],[0.4,17.5],[0.5,19]]),interp([[0,33.5],[0.2,37],[0.3,38.5],[0.5,38.3]]),interp([[0,51],[0.2,49.5],[0.4,47],[0.5,46.5]]),interp([[0,51],[0.2,50.3],[0.4,47],[0.5,45.5]]),interp([[0,66],[0.2,60.5],[0.3,58.5],[0.5,61]])];
var off3=[0.8,2.5,3.5,2.5,3,3.3];
seg3.forEach(function(f,i){curve(f,s3,0,0.5,false);curve(function(w){return f(w)+off3[i];},s3,0,0.5,true);});
el(g,"rect",{x:X0,y:300,width:XG-X0,height:Y0-300,fill:"none",stroke:"#f5b50a","stroke-width":4});
function tri(x,y,fill){el(g,"path",{d:"M"+x+" "+(y-6)+" l6 10 h-12 z",fill:fill?"#e21":"none",stroke:fill?"#e21":"#2233cc","stroke-width":1.5});}
function cir(x,y,fill){el(g,"circle",{cx:x,cy:y,r:5.2,fill:fill?"#e21":"none",stroke:fill?"#e21":"#2233cc","stroke-width":1.5});}
var LA1=[[0.2,8],[0.3,12.5],[0.4,15.5],[0.5,17.5],[0.6,20.5],[0.7,22.5],[0.8,23.5],[0.9,20],[1,19],[0.5,40.5],[0.6,36],[0.4,46],[0.2,49],[0.1,52],[0,54],[0.2,52],[0,71],[0.2,71],[0.4,74],[0.6,74.5],[0.8,75.5],[1,76],[0.7,31.5]];
LA1.forEach(function(p){tri(s1(p[0]),Y(p[1]),true);tri(s1(p[0]),Y(p[1]+0.8),false);});
[[0.2,3.5],[0.4,7],[0.5,8.5],[0.6,10],[0.7,11],[0.8,12],[0.9,12.5],[1,13],[0,34],[0.2,33],[0.4,31.5],[0.6,30],[0.8,28.5],[1,25],[0.2,53],[0.4,54],[0.6,53],[0.8,52.5],[1,54],[1,27.5]].forEach(function(p){cir(s1(p[0]),Y(p[1]),true);cir(s1(p[0]),Y(p[1]+1),false);});
[[0.8,15.5],[0.75,16],[0.6,20],[0.4,18.5],[0.3,15.5],[0.2,11.5],[0.8,30],[0.7,33],[0.6,40],[0.5,43],[0.4,46],[0.3,50.5],[0.1,54],[0.8,73.5],[0.6,71],[0.4,73.5],[0.2,74.5],[0,70]].forEach(function(p){tri(s2(p[0]),Y(p[1]),true);tri(s2(p[0]),Y(p[1]+0.8),false);});
[[0.8,20.5],[0.8,17.5],[0.6,15.5],[0.6,24.5],[0.5,14],[0.4,10.5],[0.4,28],[0.2,5],[0.2,31],[0,31.5],[0.8,57],[0.6,56.5],[0.4,54.5],[0.2,54.5],[0,56]].forEach(function(p){cir(s2(p[0]),Y(p[1]),true);cir(s2(p[0]),Y(p[1]+1.2),false);});
[[0.15,9.5],[0.2,12.5],[0.3,16.5],[0.4,19.5],[0.5,20],[0.1,69.5],[0.2,71],[0.3,73],[0.4,72],[0.5,73],[0.3,50],[0.35,49],[0.4,49],[0.5,47],[0.2,51.5]].forEach(function(p){tri(s3(p[0]),Y(p[1]),true);tri(s3(p[0]),Y(p[1]+0.8),false);});
[[0.1,4],[0.2,7],[0.3,9.5],[0.4,10.5],[0.5,10.8],[0.1,32.5],[0.2,35],[0.3,38.5],[0.4,40],[0.1,52],[0.2,53],[0.35,46.5],[0.4,47],[0.5,46]].forEach(function(p){cir(s3(p[0]),Y(p[1]),true);cir(s3(p[0]),Y(p[1]+1),false);});
[["LO2(Δ₁)",3030,73],["LO2(Σ₁)",3255,72],["LO2(Λ₁)",3415,71],["TO2(Δ₅)",3030,57],["TO2(Σ₁)",3305,57],["TO2(Λ₁)",3465,50.5],["LO1(Δ₂)",3015,44],["LO1(Σ₄)",3300,43],["LO1(Λ₃)",3420,47.5],["TO1(Δ₅)",3005,28],["TO1(Σ₄)",3305,24],["TO1(Λ₃)",3440,32.5],["LA(Δ₁)",3010,18],["LA(Σ₁)",3320,18],["LA(Λ₁)",3445,20.5],["TA(Δ₅)",3110,6],["TA(Σ₄)",3240,6],["TA(Λ₃)",3480,5]].forEach(function(t){el(g,"text",{x:t[1],y:Y(t[2]),"font-size":12},t[0]);});
})();

(function(){var g=document.getElementById("f5");
el(g,"text",{x:4181,y:127,"font-size":19,"text-anchor":"middle"},"TA (4 q δ)");
el(g,"text",{x:4181,y:433,"font-size":19,"text-anchor":"middle"},"LA (2+q 2+q δ)");
function panel(x0,x1,y0,y1,emax,ltop,lbot,P,lab,decs,seed){
  var w=x1-x0,h=y1-y0;
  function X(e){return x0+(e+emax)/(2*emax)*w;} function Y(l){return y0+(ltop-l)/(ltop-lbot)*h;}
  el(g,"rect",{x:x0,y:y0,width:w,height:h,fill:"none",stroke:"#333","stroke-width":1.3});
  for(var e=-emax;e<=emax;e+=10){el(g,"text",{x:X(e),y:y1+17,"font-size":14,"text-anchor":"middle"},String(e));el(g,"line",{x1:X(e),y1:y1,x2:X(e),y2:y1-5,stroke:"#000"});el(g,"line",{x1:X(e),y1:y0,x2:X(e),y2:y0+5,stroke:"#000"});}
  decs.forEach(function(d){var y=Y(d);el(g,"text",{x:x0-4,y:y+4,"font-size":12,"text-anchor":"end"},"10");el(g,"text",{x:x0-3,y:y-3,"font-size":8},String(d));el(g,"line",{x1:x0,y1:y,x2:x0+5,y2:y,stroke:"#000"});el(g,"line",{x1:x1,y1:y,x2:x1-5,y2:y,stroke:"#000"});});
  el(g,"text",{x:(x0+x1)/2,y:y1+42,"font-size":15,"text-anchor":"middle"},"Energy (meV)");
  el(g,"text",{x:x0-50,y:(y0+y1)/2,"font-size":13,transform:"rotate(-90 "+(x0-50)+" "+((y0+y1)/2)+")","text-anchor":"middle"},"Intensity (arb. units)");
  el(g,"text",{x:x0+10,y:y0+43,"font-size":17},lab);
  P.forEach(function(p,pi){var col=p.c;
    function ph(e){return p.al/(1+Math.pow((e+p.ep)/p.w,2))+p.ar/(1+Math.pow((e-p.ep)/p.w,2))+p.bg;}
    function tot(e){return ph(e)+p.a0*Math.exp(-e*e/(2*p.w0*p.w0));}
    var a=[],b=[];for(var e=-emax;e<=emax;e+=0.25){var lt=Math.log10(tot(e)),lp=Math.log10(ph(e));a.push([X(e),Math.min(y1,Y(lt))]);b.push([X(e),Math.min(y1,Y(lp))]);}
    el(g,"polyline",{points:pts(a),fill:"none",stroke:col,"stroke-width":1.1});
    el(g,"polyline",{points:pts(b),fill:"none",stroke:col,"stroke-width":1.2,"stroke-dasharray":"2,2"});
    var n=0;for(var e=-emax;e<=emax;e+=emax/26){n++;var l=Math.log10(tot(e))+(rnd(seed+n*7+pi*131)-0.5)*0.35;var y=Y(l);if(y>y1||y<y0)continue;
      el(g,"line",{x1:X(e),y1:y-6,x2:X(e),y2:y+6,stroke:col,"stroke-opacity":0.45,"stroke-width":1});
      el(g,"ellipse",{cx:X(e),cy:y,rx:4.3,ry:5.2,fill:"none",stroke:col,"stroke-width":1.6});}
  });
}
var B="#1a1ae6",G="#22b822";
panel(3885,4144,152,362,20,-2,-4.53,[{c:B,a0:6.5e-3,w0:1.6,al:2.6e-3,ar:4.5e-3,ep:13,w:3,bg:2.2e-4},{c:G,a0:3.5e-3,w0:1.6,al:6e-4,ar:8.5e-4,ep:12.5,w:3.2,bg:9e-5}],"q = 0.8",[-2,-3,-4],1);
panel(4223,4483,152,362,20,-2,-4.53,[{c:B,a0:6e-3,w0:1.6,al:2.6e-3,ar:4.2e-3,ep:14,w:2.8,bg:1.4e-4},{c:G,a0:2.6e-3,w0:1.6,al:4.5e-4,ar:7e-4,ep:13.5,w:3,bg:6e-5}],"q = 1.0",[-2,-3,-4],2);
panel(3885,4144,457,667,30,-1.7,-5.3,[{c:B,a0:1.3e-2,w0:1.8,al:2.2e-3,ar:3.6e-3,ep:15.9,w:3.2,bg:3e-5},{c:G,a0:4.5e-3,w0:1.9,al:2.6e-4,ar:3.2e-4,ep:15.9,w:3.6,bg:4e-6}],"q = 0.8",[-2,-3,-4,-5],3);
panel(4223,4483,457,667,30,-1.7,-5.3,[{c:B,a0:8.5e-3,w0:1.8,al:3.2e-3,ar:5e-3,ep:17,w:3.3,bg:4e-5},{c:G,a0:1.8e-3,w0:2,al:2.8e-4,ar:4.5e-4,ep:17,w:3.8,bg:5e-6}],"q = 1.0",[-2,-3,-4,-5],4);
})();
</script>
</body></html>
